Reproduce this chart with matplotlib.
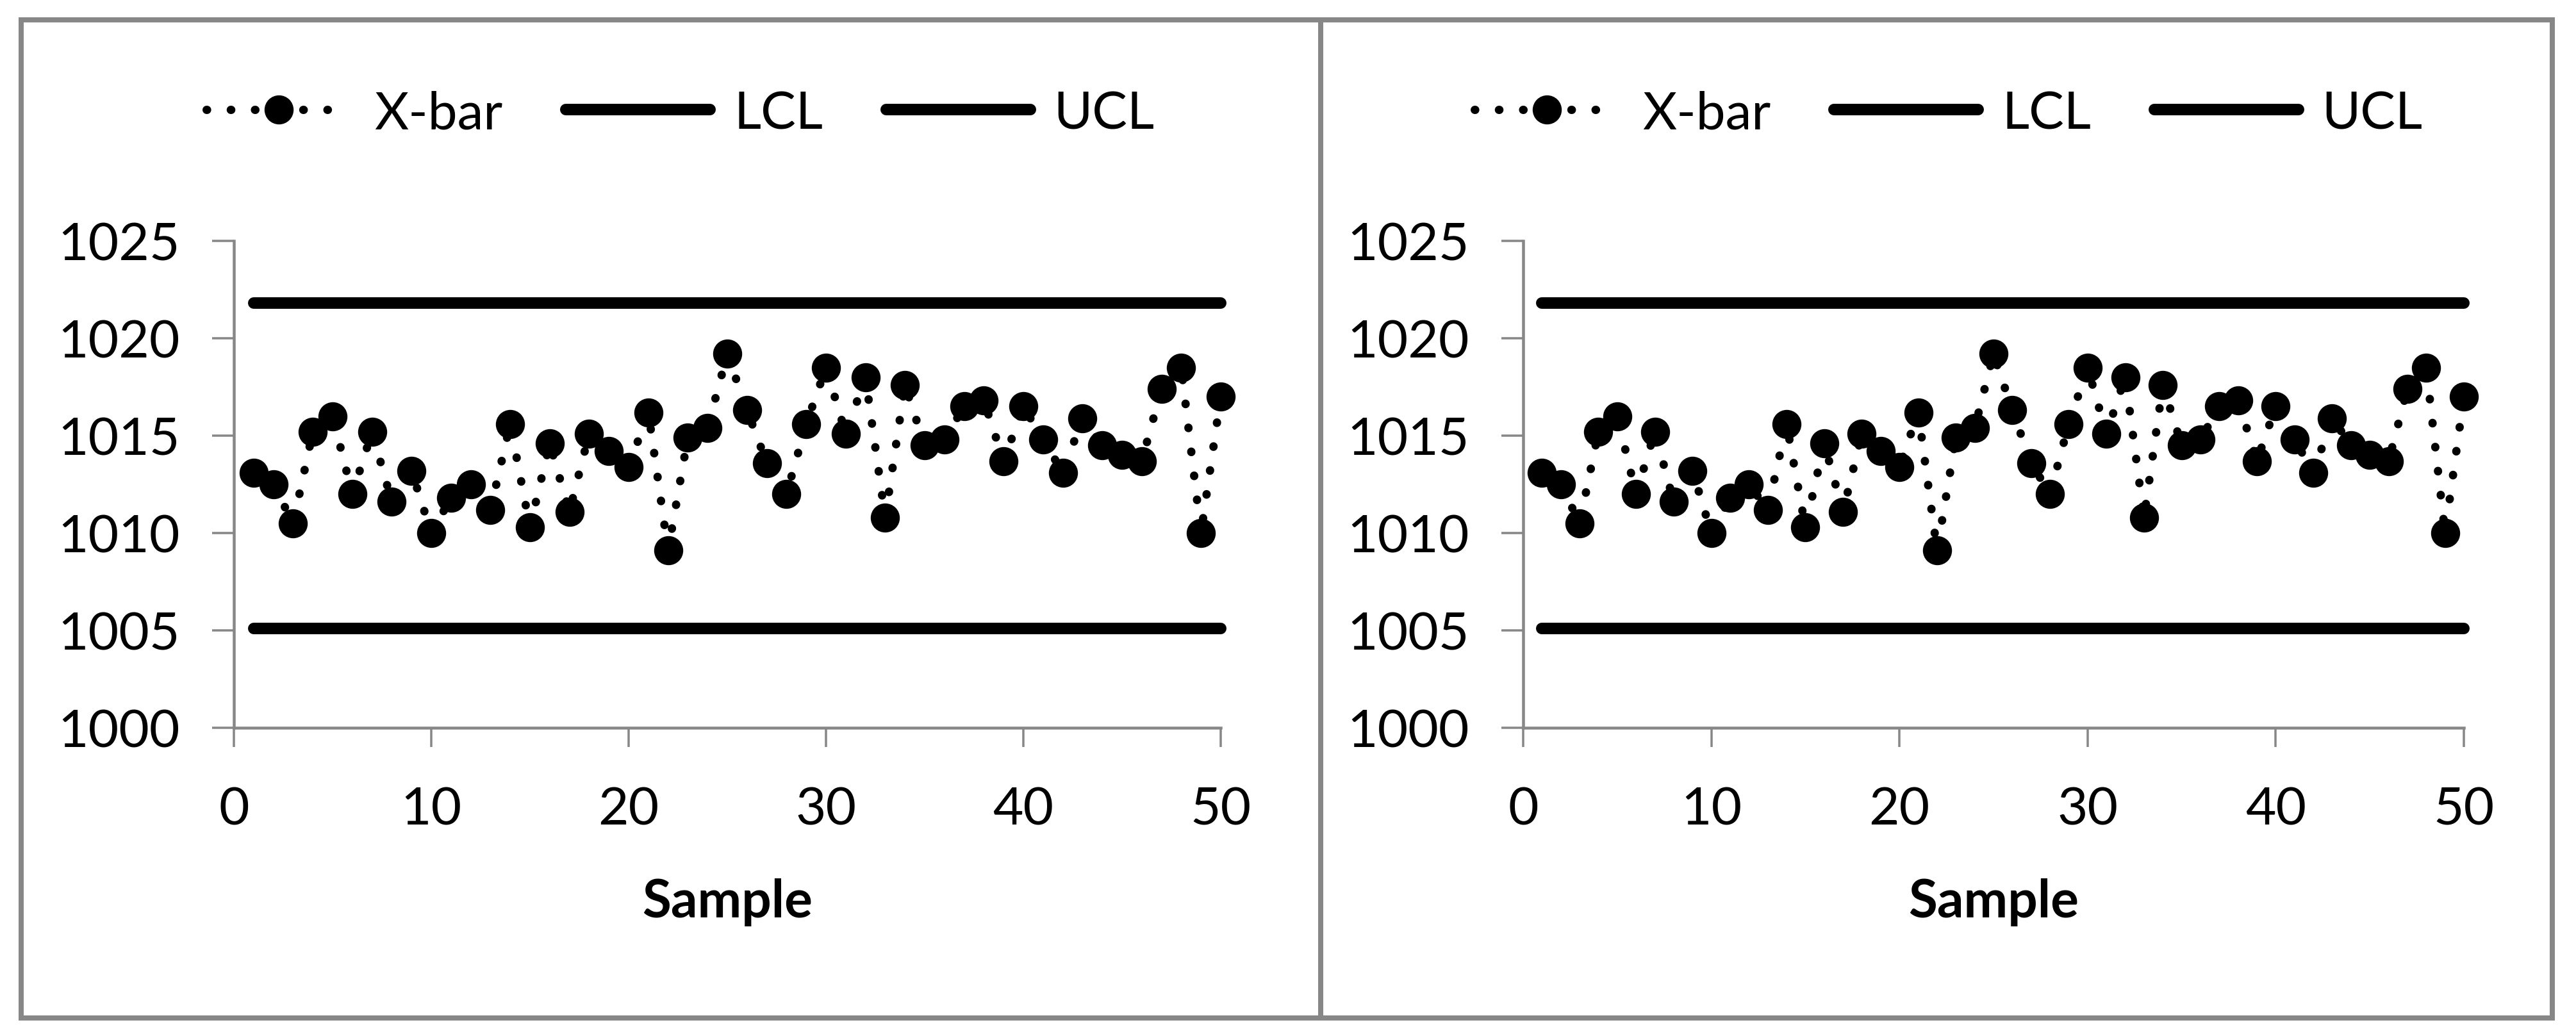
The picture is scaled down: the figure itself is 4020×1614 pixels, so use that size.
import matplotlib
matplotlib.use("Agg")
import matplotlib.pyplot as plt
from matplotlib.patches import Rectangle
from matplotlib.lines import Line2D

# ---- data ----
samples = list(range(1, 51))
xbar = [1013.1, 1012.5, 1010.5, 1015.2, 1016.0, 1012.0, 1015.2, 1011.6, 1013.2, 1010.0,
        1011.8, 1012.5, 1011.2, 1015.6, 1010.3, 1014.6, 1011.1, 1015.1, 1014.2, 1013.4,
        1016.2, 1009.1, 1014.9, 1015.4, 1019.2, 1016.3, 1013.6, 1012.0, 1015.6, 1018.5,
        1015.1, 1018.0, 1010.8, 1017.6, 1014.5, 1014.8, 1016.5, 1016.8, 1013.7, 1016.5,
        1014.8, 1013.1, 1015.9, 1014.5, 1014.0, 1013.7, 1017.4, 1018.5, 1010.0, 1017.0]
lcl_value = 1005.1
ucl_value = 1021.8
lcl = [lcl_value] * len(samples)
ucl = [ucl_value] * len(samples)
x_ticks = [0, 10, 20, 30, 40, 50]
y_ticks = [1000, 1005, 1010, 1015, 1020, 1025]
series_labels = ["X-bar", "LCL", "UCL"]
x_label = "Sample"

W, H = 4020, 1615
DPI = 100
PX = 72.0 / DPI  # points per pixel
GRAY = "#878787"

plt.rcParams['font.family'] = ['Lato', 'DejaVu Sans']
FS = 59

fig = plt.figure(figsize=(W / DPI, H / DPI), dpi=DPI)
fig.patch.set_facecolor("white")

# panel borders (pixel geometry)
panels = [(33, 32, 2061, 1590), (2061, 32, 3983, 1590)]
for (x0, y0, x1, y1) in panels:
    fig.patches.append(Rectangle((x0 / W, 1 - y1 / H), (x1 - x0) / W, (y1 - y0) / H,
                                 transform=fig.transFigure, fill=False,
                                 edgecolor=GRAY, linewidth=8 * PX, zorder=0))

axes_px = [(365, 1905), (2377, 3845)]
legend_cx = [1062, 3041]
y_top, y_bot = 377, 1137

for (ax0, ax1), lcx in zip(axes_px, legend_cx):
    ax = fig.add_axes([ax0 / W, 1 - y_bot / H, (ax1 - ax0) / W, (y_bot - y_top) / H])
    ax.set_xlim(0, 50)
    ax.set_ylim(1000, 1025)
    ax.set_xticks(x_ticks)
    ax.set_yticks(y_ticks)
    for s in ("top", "right"):
        ax.spines[s].set_visible(False)
    for s in ("left", "bottom"):
        ax.spines[s].set_color(GRAY)
        ax.spines[s].set_linewidth(4.5 * PX)
    ax.tick_params(axis="y", direction="out", length=34 * PX, width=3.5 * PX,
                   color=GRAY, labelsize=FS, pad=50 * PX)
    ax.tick_params(axis="x", direction="out", length=30 * PX, width=3.5 * PX,
                   color=GRAY, labelsize=FS, pad=60 * PX)

    l_x, = ax.plot(samples, xbar, color="black", linewidth=13 * PX,
                   linestyle=(0, (0.05, 2.85)), dash_capstyle="round",
                   marker="o", markersize=44 * PX, markerfacecolor="black",
                   markeredgecolor="black", clip_on=False, zorder=3)
    l_l, = ax.plot(samples, lcl, color="black", linewidth=18 * PX,
                   solid_capstyle="round", clip_on=False, zorder=2)
    l_u, = ax.plot(samples, ucl, color="black", linewidth=18 * PX,
                   solid_capstyle="round", clip_on=False, zorder=2)

    ax.set_xlabel(x_label, fontsize=FS, fontweight="bold")
    ax.xaxis.set_label_coords(0.5, -(1371 - y_bot) / (y_bot - y_top))

    ax.legend([l_x, l_l, l_u], series_labels, loc="center",
              bbox_to_anchor=(lcx / W, 1 - 178 / H), bbox_transform=fig.transFigure,
              ncol=3, frameon=False, fontsize=FS, numpoints=1,
              handlelength=2.75, handletextpad=0.45, columnspacing=1.2,
              borderpad=0, borderaxespad=0)

fig.savefig("out.png", dpi=DPI, facecolor="white")
